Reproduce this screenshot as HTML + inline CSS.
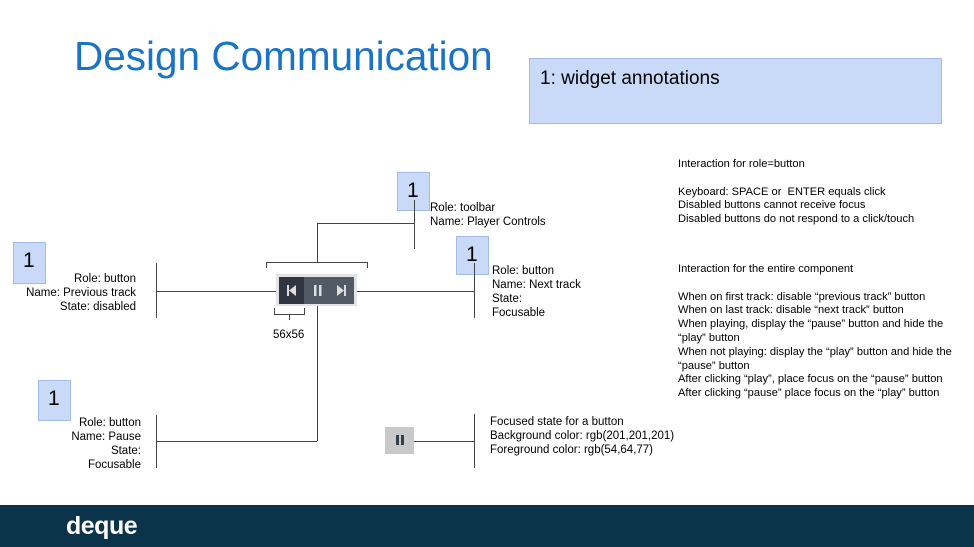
<!DOCTYPE html>
<html><head><style>
body{margin:0;width:974px;height:547px;position:relative;background:#fff;font-family:"Liberation Sans",sans-serif;overflow:hidden}
.a{position:absolute}
.t{position:absolute;font-size:11.5px;line-height:14px;color:#000}
.r{font-size:11.1px;line-height:13.8px}
.n{position:absolute;background:#c9daf8;border:1px solid #a4bde8;box-sizing:border-box;font-size:21px;padding:6px 0 0 9px}
.l{position:absolute;background:#444}
</style></head><body>
<div class="a" style="left:74px;top:33px;font-size:40.5px;color:#1a73c6">Design Communication</div>
<div class="a" style="left:529px;top:58px;width:413px;height:66px;background:#c9daf8;border:1px solid #a4bde8;box-sizing:border-box;font-size:19px;padding:9px 0 0 10px">1: widget annotations</div>

<div class="n" style="left:397px;top:172px;width:33px;height:39px">1</div>
<div class="n" style="left:13px;top:242px;width:33px;height:42px">1</div>
<div class="n" style="left:456px;top:236px;width:33px;height:39px">1</div>
<div class="n" style="left:38px;top:380px;width:33px;height:41px">1</div>

<div class="t" style="left:430px;top:201px">Role: toolbar<br>Name: Player Controls</div>
<div class="t" style="left:0;top:272px;width:136px;text-align:right">Role: button<br>Name: Previous track<br>State: disabled</div>
<div class="t" style="left:492px;top:264px">Role: button<br>Name: Next track<br>State:<br>Focusable</div>
<div class="t" style="left:0;top:416px;width:141px;text-align:right">Role: button<br>Name: Pause<br>State:<br>Focusable</div>
<div class="t" style="left:490px;top:415px">Focused state for a button<br>Background color: rgb(201,201,201)<br>Foreground color: rgb(54,64,77)</div>
<div class="t" style="left:273px;top:328px">56x56</div>
<div class="t r" style="left:678px;top:158px">Interaction for role=button<br><br>Keyboard: SPACE or &nbsp;ENTER equals click<br>Disabled buttons cannot receive focus<br>Disabled buttons do not respond to a click/touch</div>
<div class="t r" style="left:678px;top:263px;width:280px">Interaction for the entire component<br><br>When on first track: disable “previous track” button<br>When on last track: disable “next track” button<br>When playing, display the “pause” button and hide the “play” button<br>When not playing: display the “play” button and hide the “pause” button<br>After clicking “play”, place focus on the “pause” button<br>After clicking “pause” place focus on the “play” button</div>

<!-- lines -->
<div class="l" style="left:156px;top:291px;width:120px;height:1px"></div>
<div class="l" style="left:156px;top:263px;width:1px;height:55px"></div>
<div class="l" style="left:357px;top:291px;width:117px;height:1px"></div>
<div class="l" style="left:474px;top:263px;width:1px;height:55px"></div>
<div class="l" style="left:266px;top:262px;width:102px;height:1px"></div>
<div class="l" style="left:266px;top:262px;width:1px;height:6px"></div>
<div class="l" style="left:367px;top:262px;width:1px;height:6px"></div>
<div class="l" style="left:317px;top:223px;width:1px;height:39px"></div>
<div class="l" style="left:317px;top:223px;width:97px;height:1px"></div>
<div class="l" style="left:414px;top:200px;width:1px;height:49px"></div>
<div class="l" style="left:317px;top:306px;width:1px;height:135px"></div>
<div class="l" style="left:156px;top:441px;width:161px;height:1px"></div>
<div class="l" style="left:156px;top:415px;width:1px;height:53px"></div>
<div class="l" style="left:414px;top:441px;width:60px;height:1px"></div>
<div class="l" style="left:474px;top:414px;width:1px;height:54px"></div>
<!-- 56x56 bracket -->
<div class="l" style="left:274px;top:308px;width:1px;height:6px"></div>
<div class="l" style="left:304px;top:308px;width:1px;height:6px"></div>
<div class="l" style="left:274px;top:314px;width:31px;height:1px"></div>
<div class="l" style="left:289px;top:314px;width:1px;height:6px"></div>

<!-- toolbar -->
<div class="a" style="left:276px;top:274px;width:81px;height:32px;background:#e4e4e4"></div>
<div class="a" style="left:279px;top:277px;width:25px;height:27px;background:#2f3642"></div>
<div class="a" style="left:304px;top:277px;width:50px;height:27px;background:#525a66"></div>
<svg class="a" style="left:279px;top:277px" width="75" height="27">
<rect x="8" y="8" width="2" height="11" fill="#ddd"/><polygon points="17,8 17,19 10,13.5" fill="#ddd"/>
<rect x="35" y="8" width="2.5" height="11" fill="#ddd"/><rect x="40" y="8" width="2.5" height="11" fill="#ddd"/>
<polygon points="58,8 58,19 65,13.5" fill="#ddd"/><rect x="65" y="8" width="2" height="11" fill="#ddd"/>
</svg>
<div class="a" style="left:385px;top:427px;width:29px;height:27px;background:#c9c9c9"></div>
<div class="a" style="left:396px;top:435px;width:2.5px;height:10px;background:#36404d"></div>
<div class="a" style="left:401px;top:435px;width:2.5px;height:10px;background:#36404d"></div>

<div class="a" style="left:0;top:505px;width:974px;height:42px;background:#0b3349"></div>
<div class="a" style="left:66px;top:512px;font-size:25px;color:#fff;font-weight:bold;letter-spacing:-0.5px">deque</div>
</body></html>
